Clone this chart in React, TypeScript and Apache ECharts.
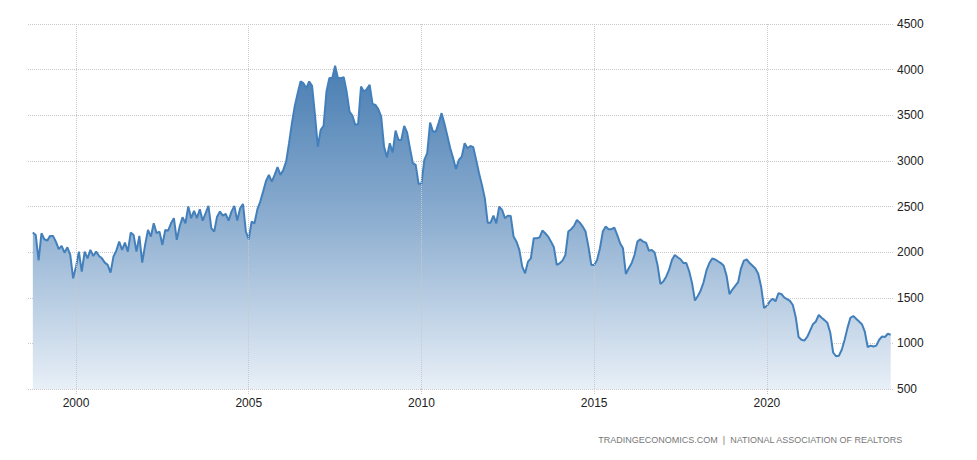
import React, { useEffect, useRef } from "react";
import * as echarts from "echarts";

// Monthly values, first point October 1998
const START_YEAR = 1998;
const START_MONTH = 10;

const y1998 = [2214, 2188, 1910];
const y1999 = [2207, 2141, 2126, 2178, 2178, 2115, 2032, 2068, 1994, 2053, 1969, 1713];
const y2000 = [1841, 2005, 1786, 2005, 1932, 2024, 1958, 2005, 1958, 1932, 1885, 1860];
const y2001 = [1775, 1951, 2016, 2115, 2024, 2104, 2005, 2214, 2188, 2005, 2178, 1885];
const y2002 = [2079, 2243, 2170, 2316, 2207, 2225, 2079, 2243, 2235, 2316, 2372, 2134];
const y2003 = [2280, 2383, 2316, 2500, 2372, 2452, 2372, 2469, 2345, 2426, 2507, 2262];
const y2004 = [2225, 2389, 2444, 2400, 2419, 2345, 2444, 2507, 2345, 2481, 2528, 2225];
const y2005 = [2141, 2334, 2316, 2469, 2554, 2663, 2780, 2846, 2773, 2846, 2931, 2846];
const y2006 = [2901, 2992, 3194, 3413, 3603, 3742, 3870, 3852, 3797, 3870, 3822, 3504];
const y2007 = [3157, 3340, 3384, 3760, 3907, 3907, 4042, 3907, 3907, 3918, 3760, 3541];
const y2008 = [3497, 3395, 3406, 3815, 3760, 3786, 3833, 3625, 3614, 3567, 3486, 3157];
const y2009 = [3040, 3194, 3091, 3332, 3230, 3230, 3384, 3311, 3139, 2975, 2956, 2748];
const y2010 = [2748, 3011, 3084, 3420, 3321, 3321, 3420, 3523, 3406, 3274, 3139, 3030];
const y2011 = [2912, 3011, 3047, 3194, 3139, 3164, 3150, 3011, 2865, 2737, 2591, 2323];
const y2012 = [2323, 2400, 2316, 2499, 2463, 2372, 2400, 2397, 2170, 2115, 2024, 1841];
const y2013 = [1768, 1896, 1932, 2152, 2152, 2160, 2236, 2207, 2170, 2115, 2053, 1860];
const y2014 = [1878, 1907, 1969, 2225, 2251, 2287, 2353, 2323, 2280, 2225, 2060, 1860];
const y2015 = [1860, 1914, 2042, 2225, 2280, 2251, 2251, 2269, 2189, 2097, 2042, 1761];
const y2016 = [1823, 1878, 1969, 2115, 2141, 2115, 2104, 2016, 2024, 1995, 1860, 1651];
const y2017 = [1677, 1731, 1805, 1914, 1969, 1944, 1922, 1880, 1880, 1790, 1660, 1470];
const y2018 = [1520, 1580, 1670, 1800, 1880, 1930, 1920, 1900, 1880, 1850, 1740, 1540];
const y2019 = [1590, 1630, 1670, 1823, 1907, 1920, 1880, 1850, 1820, 1760, 1620, 1390];
const y2020 = [1410, 1460, 1490, 1460, 1549, 1542, 1505, 1484, 1465, 1420, 1290, 1070];
const y2021 = [1040, 1030, 1070, 1140, 1210, 1240, 1311, 1280, 1255, 1225, 1120, 900];
const y2022 = [860, 865, 930, 1040, 1170, 1280, 1300, 1270, 1240, 1210, 1130, 960];
const y2023 = [975, 965, 975, 1040, 1075, 1070, 1105, 1095];

const xTickYears = [2000, 2005, 2010, 2015, 2020];
const yTicks = [500, 1000, 1500, 2000, 2500, 3000, 3500, 4000, 4500];
const SOURCE_TEXT = "TRADINGECONOMICS.COM  |  NATIONAL ASSOCIATION OF REALTORS";

const allValues = [
  ...y1998, ...y1999, ...y2000, ...y2001, ...y2002, ...y2003, ...y2004,
  ...y2005, ...y2006, ...y2007, ...y2008, ...y2009, ...y2010, ...y2011,
  ...y2012, ...y2013, ...y2014, ...y2015, ...y2016, ...y2017, ...y2018,
  ...y2019, ...y2020, ...y2021, ...y2022, ...y2023,
];

const seriesData = allValues.map((v, i) => [
  START_YEAR + (START_MONTH - 1 + i) / 12,
  v,
]);

const GRID_COLOR = "#c9c9c9";
const FONT = '"Liberation Sans", Arial, sans-serif';

export default function App() {
  const ref = useRef<HTMLDivElement>(null);

  useEffect(() => {
    if (!ref.current) return;
    const chart = echarts.init(ref.current, undefined, { renderer: "svg" });
    chart.setOption({
      animation: false,
      backgroundColor: "#ffffff",
      textStyle: { fontFamily: FONT },
      grid: { left: 28, right: 84, top: 24, bottom: 71, containLabel: false },
      xAxis: {
        type: "value",
        min: 1998.61,
        max: 2023.65,
        axisLine: { show: false },
        splitLine: { show: false },
        axisTick: {
          show: true,
          customValues: xTickYears,
          length: 5,
          lineStyle: { color: GRID_COLOR, type: [1, 1], width: 1 },
        },
        axisLabel: {
          customValues: xTickYears,
          formatter: (v: number) => String(Math.round(v)),
          color: "#222",
          fontSize: 12,
          margin: 8,
          fontFamily: FONT,
        },
      },
      yAxis: {
        type: "value",
        position: "right",
        min: yTicks[0],
        max: yTicks[yTicks.length - 1],
        interval: 500,
        axisLine: { show: false },
        axisTick: { show: false },
        axisLabel: {
          color: "#222",
          fontSize: 12,
          margin: 4,
          fontFamily: FONT,
          formatter: (v: number) => String(v),
        },
        splitLine: {
          show: true,
          lineStyle: { color: GRID_COLOR, type: [1, 1], width: 1 },
        },
      },
      series: [
        {
          type: "line",
          data: seriesData,
          showSymbol: false,
          symbol: "none",
          lineStyle: { color: "#4380bb", width: 2 },
          itemStyle: { color: "#4380bb" },
          areaStyle: {
            opacity: 1,
            color: {
              type: "linear",
              global: true,
              x: 0,
              y: 40,
              x2: 0,
              y2: 389,
              colorStops: [
                { offset: 0, color: "rgb(62,118,174)" },
                { offset: 0.5, color: "rgb(138,172,207)" },
                { offset: 1, color: "rgb(232,239,247)" },
              ],
            },
          },
          markLine: {
            silent: true,
            symbol: ["none", "none"],
            label: { show: false },
            lineStyle: { color: GRID_COLOR, type: [1, 1], width: 1 },
            data: xTickYears.map((y) => ({ xAxis: y })),
          },
        },
      ],
      graphic: [
        {
          type: "text",
          right: 74,
          top: 435,
          style: {
            text: SOURCE_TEXT,
            fill: "#777777",
            fontSize: 9,
            fontFamily: FONT,
          },
        },
      ],
    });
    return () => chart.dispose();
  }, []);

  return (
    <div
      ref={ref}
      style={{ position: "fixed", left: 0, top: 0, width: 977, height: 460 }}
    />
  );
}
